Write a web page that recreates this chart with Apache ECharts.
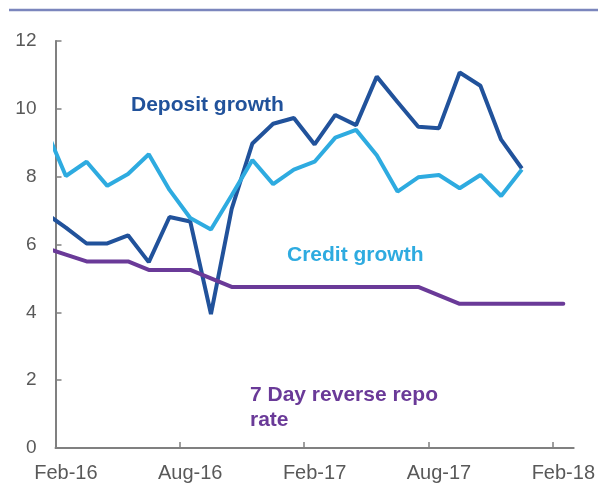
<!DOCTYPE html>
<html>
<head>
<meta charset="utf-8">
<script src="https://cdn.jsdelivr.net/npm/echarts@6/dist/echarts.min.js"></script>
<style>
  html, body { margin: 0; padding: 0; background: #fff; }
  #myChart { width: 598px; height: 483px; }
</style>
</head>
<body>
<div id="myChart"></div>
<script>
// monthly observations, Jan-16 .. Feb-18 (points sit mid-month)
var months = ['Jan-16', 'Feb-16', 'Mar-16', 'Apr-16', 'May-16', 'Jun-16', 'Jul-16', 'Aug-16', 'Sep-16', 'Oct-16', 'Nov-16', 'Dec-16',
    'Jan-17', 'Feb-17', 'Mar-17', 'Apr-17', 'May-17', 'Jun-17', 'Jul-17', 'Aug-17', 'Sep-17', 'Oct-17', 'Nov-17', 'Dec-17',
    'Jan-18', 'Feb-18'];
var depositGrowth = [6.93, 6.5, 6.03, 6.03, 6.27, 5.48, 6.81, 6.68, 3.95, 7.05, 8.98, 9.56,
    9.73, 8.95, 9.82, 9.52, 10.95, 10.2, 9.47, 9.43, 11.07, 10.68, 9.09, 8.24];
var creditGrowth = [9.45, 8.02, 8.44, 7.73, 8.08, 8.66, 7.61, 6.78, 6.44, 7.45, 8.49, 7.78,
    8.21, 8.44, 9.15, 9.38, 8.63, 7.56, 7.98, 8.05, 7.66, 8.05, 7.43, 8.21];
var repoRate = [5.9, 5.7, 5.5, 5.5, 5.5, 5.25, 5.25, 5.25, 5.0, 4.75, 4.75, 4.75,
    4.75, 4.75, 4.75, 4.75, 4.75, 4.75, 4.75, 4.5, 4.25, 4.25, 4.25, 4.25,
    4.25, 4.25];
var tickLabels = ['Feb-16', 'Aug-16', 'Feb-17', 'Aug-17', 'Feb-18'];
var yTicks = [0, 2, 4, 6, 8, 10, 12];

var axisStart = months.indexOf('Feb-16');

function toPoints(values) {
    return values.map(function (v, i) {
        return [i - axisStart + 0.5, v];
    });
}

// ticks at the month boundary, labels centred on the month
var tickPos = tickLabels.map(function (t) { return months.indexOf(t) - axisStart; });
var labelPos = tickPos.map(function (p) { return p + 0.5; });

var myChart = echarts.init(document.getElementById('myChart'));
var textFont = 'Liberation Sans, Arial, sans-serif';

var option = {
    backgroundColor: '#fff',
    animation: false,
    grid: { left: 55.5, right: 24, top: 41, bottom: 33 },
    xAxis: {
        type: 'value',
        min: 0,
        max: 25,
        interval: 6,
        splitLine: { show: false },
        axisLine: { lineStyle: { color: '#808080', width: 2 } },
        axisTick: { inside: true, length: 6, customValues: tickPos, lineStyle: { color: '#808080', width: 1.5 } },
        axisLabel: {
            customValues: labelPos,
            margin: 15,
            color: '#595959',
            fontSize: 20,
            fontFamily: textFont,
            formatter: function (v) {
                var i = labelPos.indexOf(v);
                return i >= 0 ? tickLabels[i] : '';
            }
        }
    },
    yAxis: {
        type: 'value',
        min: 0,
        max: 12,
        interval: 2,
        splitLine: { show: false },
        axisLine: { show: true, lineStyle: { color: '#808080', width: 2 } },
        axisTick: { show: true, inside: true, length: 6, customValues: yTicks, lineStyle: { color: '#808080', width: 1.5 } },
        axisLabel: { margin: 19, color: '#595959', fontSize: 19, fontFamily: textFont }
    },
    graphic: [
        { type: 'line', shape: { x1: 9, y1: 10, x2: 598, y2: 10 }, style: { stroke: '#7b86bd', lineWidth: 2.5 } },
        { type: 'text', left: 131, top: 95, style: { text: 'Deposit growth', fill: '#21529b', font: 'bold 21px ' + textFont } },
        { type: 'text', left: 287, top: 245, style: { text: 'Credit growth', fill: '#2eabe0', font: 'bold 21px ' + textFont } },
        { type: 'text', left: 250, top: 383, style: { text: '7 Day reverse repo\nrate', fill: '#6a3a98', font: 'bold 21px ' + textFont, lineHeight: 25 } }
    ],
    series: [
        {
            name: 'Deposit growth', type: 'line', data: toPoints(depositGrowth), showSymbol: false, symbol: 'none',
            lineStyle: { color: '#21529b', width: 4 }, clip: true
        },
        {
            name: 'Credit growth', type: 'line', data: toPoints(creditGrowth), showSymbol: false, symbol: 'none',
            lineStyle: { color: '#2eabe0', width: 4 }, clip: true
        },
        {
            name: '7 Day reverse repo rate', type: 'line', data: toPoints(repoRate), showSymbol: false, symbol: 'none',
            lineStyle: { color: '#6a3a98', width: 4, cap: 'round' }, clip: true
        }
    ]
};
myChart.setOption(option);

window.onresize = function () {
    myChart.resize();
};
</script>
</body>
</html>
